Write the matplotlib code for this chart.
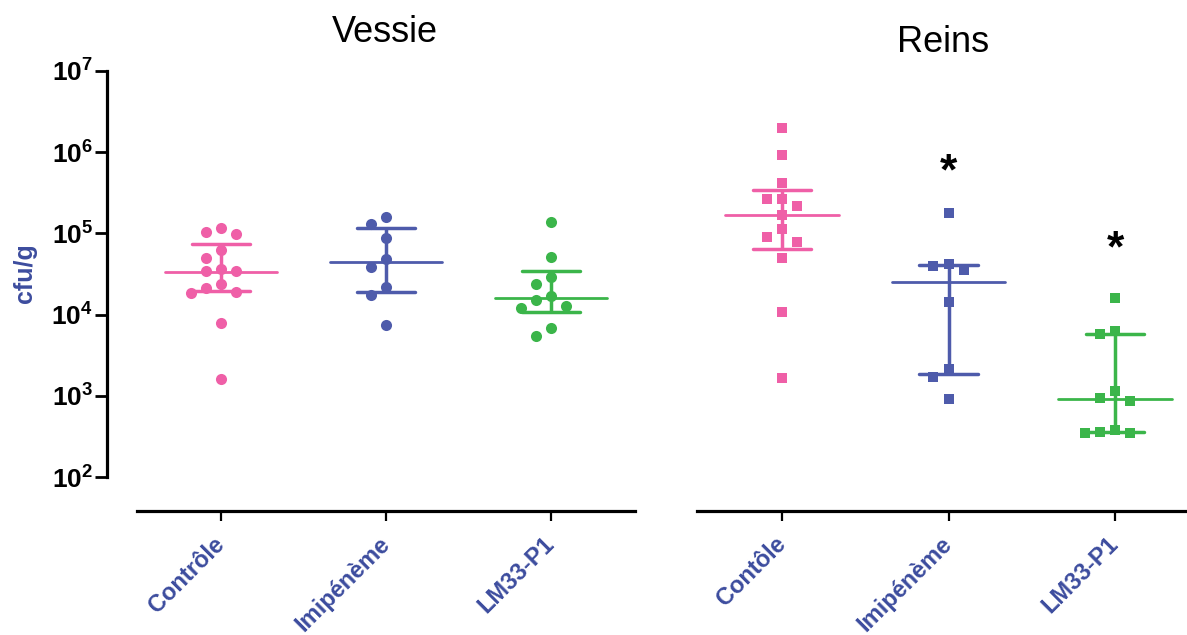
import numpy as np
import matplotlib
matplotlib.use('Agg')
import matplotlib.pyplot as plt

plt.rcParams['font.family'] = ['Liberation Sans', 'DejaVu Sans']
plt.rcParams['mathtext.fontset'] = 'custom'
plt.rcParams['mathtext.rm'] = 'Liberation Sans'
plt.rcParams['mathtext.bf'] = 'Liberation Sans:bold'

W, H, DPI = 1187, 635, 100

# ---------------- data ----------------
groups_vessie = ['Contrôle', 'Imipénème', 'LM33-P1']
groups_reins = ['Contôle', 'Imipénème', 'LM33-P1']

vessie_controle = [1.05e5, 9.8e4, 1.15e5, 6.3e4, 5.0e4, 3.4e4, 3.4e4, 3.6e4,
                   2.4e4, 2.1e4, 1.86e4, 1.9e4, 7.8e3, 1.6e3]
vessie_imipeneme = [1.57e5, 1.29e5, 8.7e4, 4.8e4, 3.9e4, 2.17e4, 1.74e4, 7.4e3]
vessie_lm33 = [1.39e5, 5.1e4, 2.9e4, 2.4e4, 1.7e4, 1.51e4, 1.29e4, 1.19e4,
               6.9e3, 5.5e3]
vessie_median = [3.3e4, 4.4e4, 1.62e4]
vessie_q1 = [1.97e4, 1.88e4, 1.07e4]
vessie_q3 = [7.3e4, 1.17e5, 3.47e4]

reins_controle = [1.96e6, 9.2e5, 4.1e5, 2.63e5, 2.63e5, 2.17e5, 1.68e5, 1.12e5,
                  9.1e4, 7.9e4, 5.0e4, 1.07e4, 1.64e3]
reins_imipeneme = [1.76e5, 3.96e4, 3.54e4, 4.16e4, 1.44e4, 2.14e3, 1.72e3, 9.1e2]
reins_lm33 = [1.58e4, 5.8e3, 6.2e3, 1.15e3, 9.3e2, 8.7e2, 3.56e2, 3.47e2,
              3.47e2, 3.8e2]
reins_median = [1.68e5, 2.5e4, 9.2e2]
reins_q1 = [6.4e4, 1.86e3, 3.56e2]
reins_q3 = [3.4e5, 4.07e4, 5.8e3]

reins_significance = ['', '*', '*']
reins_sig_y = [None, 5.6e5, 6.3e4]

ytick_values = [1e2, 1e3, 1e4, 1e5, 1e6, 1e7]
ytick_labels = [r'$\mathbf{10^{2}}$', r'$\mathbf{10^{3}}$', r'$\mathbf{10^{4}}$',
                r'$\mathbf{10^{5}}$', r'$\mathbf{10^{6}}$', r'$\mathbf{10^{7}}$']

# ---------------- style ----------------
colors = ['#EF5FA7', '#4E5BAB', '#3BB54A']
label_blue = '#3C4C9E'
PX_PER_DECADE = 81.3
SLOT = 0.091


def swarm_slots(values, min_sep_px=13.0):
    vals = np.asarray(values, dtype=float)
    ypx = np.log10(vals) * PX_PER_DECADE
    order = np.argsort(-vals, kind='stable')
    cand = [0, -1, 1, -2, 2, -3, 3, -4, 4]
    occupied = {}
    out = np.zeros(len(vals))
    for i in order:
        for c in cand:
            if all(abs(ypx[i] - ypx[j]) >= min_sep_px for j in occupied.get(c, [])):
                occupied.setdefault(c, []).append(i)
                out[i] = c
                break
    return out * SLOT


def px_rect(x0, x1, ytop, ybot):
    return [x0 / W, 1 - ybot / H, (x1 - x0) / W, (ybot - ytop) / H]


fig = plt.figure(figsize=(W / DPI, H / DPI), dpi=DPI)
ax1 = fig.add_axes(px_rect(107, 640, 70.7, 510.7))
ax2 = fig.add_axes(px_rect(697, 1187, 70.7, 510.7))

ylo = 10 ** (7 - 440.0 / PX_PER_DECADE)


def draw_panel(ax, series, med, q1, q3, marker, ms):
    for i, (vals, m, lo, hi) in enumerate(zip(series, med, q1, q3)):
        c = colors[i]
        ax.plot([i, i], [lo, hi], color=c, lw=2.5, solid_capstyle='butt', zorder=2)
        ax.plot([i - 0.175, i + 0.175], [lo, lo], color=c, lw=2.5,
                solid_capstyle='round', zorder=2)
        ax.plot([i - 0.175, i + 0.175], [hi, hi], color=c, lw=2.5,
                solid_capstyle='round', zorder=2)
        ax.plot([i - 0.34, i + 0.34], [m, m], color=c, lw=2.0,
                solid_capstyle='round', zorder=2)
        xs = i + swarm_slots(vals)
        ax.scatter(xs, vals, s=ms, marker=marker, color=c, linewidths=0,
                   zorder=3, clip_on=False)
    ax.set_yscale('log')
    ax.set_ylim(ylo, 1e7)
    ax.minorticks_off()
    for s in ['top', 'right']:
        ax.spines[s].set_visible(False)
    ax.spines['bottom'].set_linewidth(2.3)
    ax.spines['left'].set_linewidth(2.3)
    ax.set_xticks(range(3))
    ax.tick_params(axis='x', length=7.5, width=1.6, color='black')


draw_panel(ax1, [vessie_controle, vessie_imipeneme, vessie_lm33],
           vessie_median, vessie_q1, vessie_q3, 'o', 64)
draw_panel(ax2, [reins_controle, reins_imipeneme, reins_lm33],
           reins_median, reins_q1, reins_q3, 's', 56)

# left panel axes
ax1.set_xlim(-(221 - 107) / 165.0, (640 - 221) / 165.0)
ax1.spines['left'].set_bounds(1e2, 1e7)
ax1.spines['bottom'].set_bounds(-0.509, 2.51)
ax1.set_yticks(ytick_values)
ax1.set_yticklabels(ytick_labels, fontsize=19)
ax1.tick_params(axis='y', length=8.5, width=2.0, pad=1.5)
ax1.set_xticklabels(groups_vessie, rotation=45, ha='right', va='center',
                    rotation_mode='anchor', fontsize=17, fontweight='bold',
                    color=label_blue)
ax1.tick_params(axis='x', pad=14)

# right panel axes
ax2.set_xlim(-(782 - 697) / 166.5, (1187 - 782) / 166.5)
ax2.spines['left'].set_visible(False)
ax2.spines['bottom'].set_bounds(-0.51, 2.6)
ax2.set_yticks([])
ax2.set_xticklabels(groups_reins, rotation=45, ha='right', va='center',
                    rotation_mode='anchor', fontsize=17, fontweight='bold',
                    color=label_blue)
ax2.tick_params(axis='x', pad=14)

for i, (sig, yv) in enumerate(zip(reins_significance, reins_sig_y)):
    if sig:
        ax2.text(i, yv, sig, ha='center', va='center', fontsize=32,
                 fontweight='bold', color='black')

fig.text(385 / W, 1 - 41.7 / H, 'Vessie', ha='center', va='baseline', fontsize=26)
fig.text(943 / W, 1 - 51.7 / H, 'Reins', ha='center', va='baseline', fontsize=26)
fig.text(25 / W, 1 - 273 / H, 'cfu/g', ha='center', va='center', rotation=90,
         fontsize=18, fontweight='bold', color=label_blue)

fig.savefig('out.png', dpi=DPI)
